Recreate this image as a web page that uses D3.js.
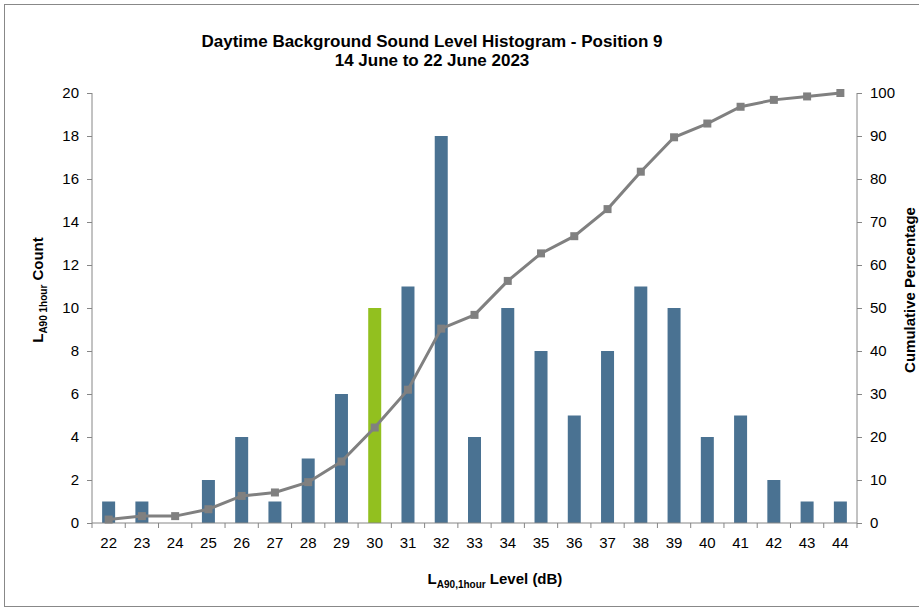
<!DOCTYPE html>
<html><head><meta charset="utf-8">
<script src="https://cdn.jsdelivr.net/npm/d3@7"></script>
<style>body{margin:0;background:#fff}svg{display:block}</style>
</head><body>
<script>
const levels = [22,23,24,25,26,27,28,29,30,31,32,33,34,35,36,37,38,39,40,41,42,43,44];
const counts = [1,1,0,2,4,1,3,6,10,11,18,4,10,8,5,8,11,10,4,5,2,1,1];
const cumulative = [0.8,1.6,1.6,3.2,6.3,7.1,9.5,14.3,22.2,31.0,45.2,48.4,56.3,62.7,66.7,73.0,81.7,89.7,92.9,96.8,98.4,99.2,100];
const highlight = [30];
const leftTicks = [0,2,4,6,8,10,12,14,16,18,20];
const rightTicks = [0,10,20,30,40,50,60,70,80,90,100];

const W = 919, H = 608;
const m = {l:92, r:919-857, t:93, b:608-523};
const svg = d3.select("body").append("svg").attr("width",W).attr("height",H);
svg.append("rect").attr("x",4.5).attr("y",4.5).attr("width",W+10).attr("height",H-6).attr("fill","#fff").attr("stroke","#888").attr("stroke-width",1);

const x = d3.scaleBand().domain(levels).range([m.l, W-m.r]).paddingInner(0.6).paddingOuter(0.3);
const xb = d3.scaleBand().domain(levels).range([m.l, W-m.r]);
const yL = d3.scaleLinear().domain([0,20]).range([H-m.b, m.t]);
const yR = d3.scaleLinear().domain([0,100]).range([H-m.b, m.t]);
const font = "Liberation Sans, Arial, sans-serif";
const axisCol = "#868686";

// bars
svg.append("g").selectAll("rect").data(levels).join("rect")
  .attr("x", d => xb(d) + xb.bandwidth()/2 - 6.5)
  .attr("width", 13)
  .attr("y", (d,i) => yL(counts[i]))
  .attr("height", (d,i) => yL(0) - yL(counts[i]))
  .attr("fill", d => highlight.includes(d) ? "#92c01f" : "#4a7292");

// axes
const gL = svg.append("g").attr("transform",`translate(${m.l},0)`)
  .call(d3.axisLeft(yL).tickValues(leftTicks).tickSize(5).tickPadding(8));
const gR = svg.append("g").attr("transform",`translate(${W-m.r},0)`)
  .call(d3.axisRight(yR).tickValues(rightTicks).tickSize(5).tickPadding(8));
const gX = svg.append("g").attr("transform",`translate(0,${H-m.b})`)
  .call(d3.axisBottom(xb).tickSize(0).tickPadding(14));
// x boundary ticks
const bounds = levels.map(d => xb(d)).concat([W-m.r]);
svg.append("g").selectAll("line").data(bounds).join("line")
  .attr("x1", d=>d).attr("x2", d=>d).attr("y1", H-m.b).attr("y2", H-m.b+5)
  .attr("stroke", axisCol);
[gL,gR,gX].forEach(g => {
  g.selectAll(".domain").attr("stroke", axisCol).attr("d", null);
  g.selectAll("line").attr("stroke", axisCol);
  g.selectAll("text").attr("font-family", font).attr("font-size", 15).attr("fill","#000");
});
gL.select(".domain").remove(); gR.select(".domain").remove(); gX.select(".domain").remove();
svg.append("line").attr("x1",m.l).attr("x2",m.l).attr("y1",m.t).attr("y2",H-m.b).attr("stroke",axisCol);
svg.append("line").attr("x1",W-m.r).attr("x2",W-m.r).attr("y1",m.t).attr("y2",H-m.b).attr("stroke",axisCol);
svg.append("line").attr("x1",m.l).attr("x2",W-m.r).attr("y1",H-m.b).attr("y2",H-m.b).attr("stroke",axisCol);

// cumulative line
const line = d3.line().x((d,i) => xb(levels[i]) + xb.bandwidth()/2).y(d => yR(d));
svg.append("path").datum(cumulative).attr("d", line).attr("fill","none").attr("stroke","#808080").attr("stroke-width",3);
svg.append("g").selectAll("rect").data(cumulative).join("rect")
  .attr("x",(d,i)=> xb(levels[i]) + xb.bandwidth()/2 - 4).attr("y", d => yR(d)-4)
  .attr("width",8).attr("height",8).attr("fill","#808080");

// titles
const tf = "'Liberation Sans Narrow', 'Liberation Sans', Arial, sans-serif";
svg.append("text").attr("x",432).attr("y",47).attr("text-anchor","middle").attr("font-family",tf).attr("font-weight","bold").attr("font-size",17).text("Daytime  Background Sound Level Histogram - Position 9");
svg.append("text").attr("x",432).attr("y",66).attr("text-anchor","middle").attr("font-family",tf).attr("font-weight","bold").attr("font-size",17).text("14 June to 22 June 2023");

const yt = svg.append("text").attr("transform","translate(43,290) rotate(-90)").attr("text-anchor","middle").attr("font-family",font).attr("font-weight","bold").attr("font-size",15);
yt.append("tspan").text("L");
yt.append("tspan").attr("font-size",10).attr("dy",4).text("A90 1hour");
yt.append("tspan").attr("dy",-4).text(" Count");

svg.append("text").attr("transform","translate(915,290) rotate(-90)").attr("text-anchor","middle").attr("font-family",font).attr("font-weight","bold").attr("font-size",15).text("Cumulative Percentage");

const xt = svg.append("text").attr("x",495).attr("y",584).attr("text-anchor","middle").attr("font-family",font).attr("font-weight","bold").attr("font-size",15);
xt.append("tspan").text("L");
xt.append("tspan").attr("font-size",10).attr("dy",4).text("A90,1hour");
xt.append("tspan").attr("dy",-4).text(" Level (dB)");
</script>
</body></html>
